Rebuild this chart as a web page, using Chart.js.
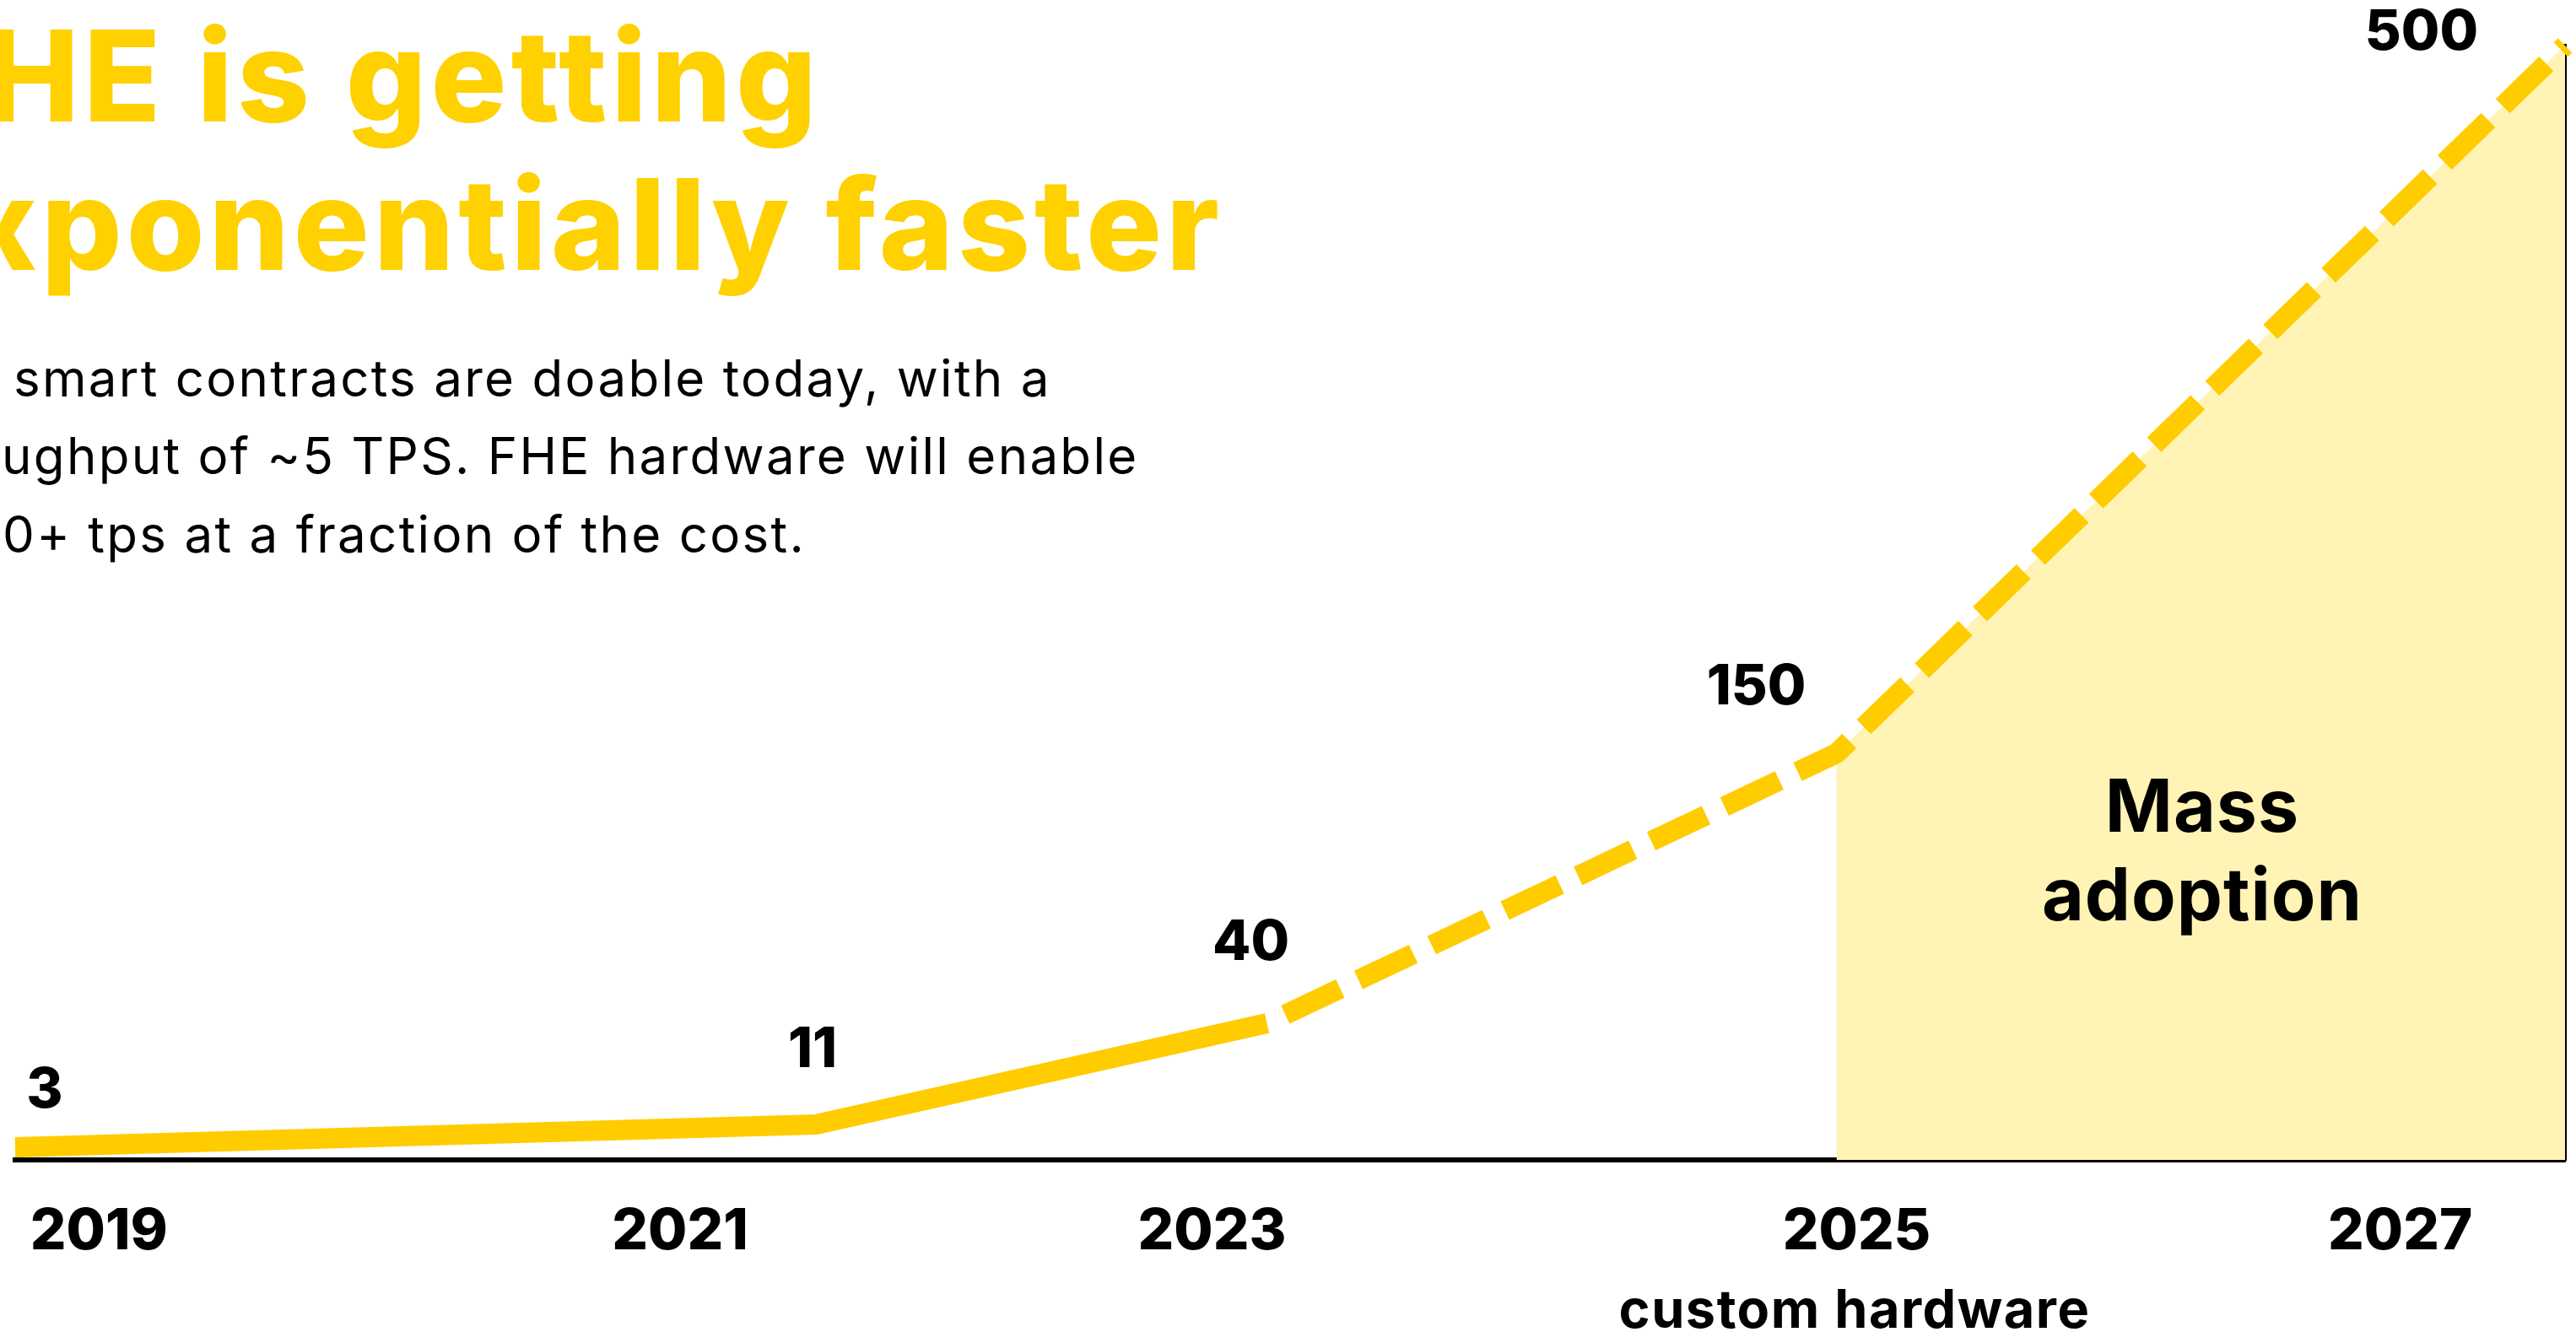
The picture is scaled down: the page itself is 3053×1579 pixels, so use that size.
<!DOCTYPE html>
<html>
<head>
<meta charset="utf-8">
<script src="https://cdn.jsdelivr.net/npm/chart.js@4.4.1/dist/chart.umd.min.js"></script>
<style>
  html, body { margin: 0; padding: 0; background: #fff; overflow: hidden; }
  #wrap { position: relative; width: 3053px; height: 1579px; overflow: hidden; font-family: Inter, sans-serif; }
  #wrap canvas { position: absolute; left: 0; top: 0; }
  .title { position: absolute; color: #FFD100; font-weight: 800; font-size: 150px; line-height: 1; white-space: nowrap; letter-spacing: 5px; }
  .sub { position: absolute; color: #000; font-weight: 400; font-size: 60px; line-height: 1; white-space: nowrap; letter-spacing: 2.3px; }
  .note { position: absolute; color: #000; font-weight: 700; white-space: nowrap; text-align: center; }
</style>
</head>
<body>
<div id="wrap">
  <canvas id="fheChart" width="3053" height="1579"></canvas>
  <div class="title" style="right:2080px; top:15px;">HE is getting</div>
  <div class="title" style="right:1603px; top:191px;">xponentially faster</div>
  <div class="sub" style="left:16px; top:418px;">smart contracts are doable today, with a</div>
  <div class="sub" style="left:2px; top:510px;">ughput of ~5 TPS. FHE hardware will enable</div>
  <div class="sub" style="left:3px; top:603px;">0+ tps at a fraction of the cost.</div>
  <div class="note" style="left:2400px; width:420px; top:903px; font-size:86px; line-height:105px; letter-spacing:1px;">Mass<br>adoption</div>
  <div class="note" style="left:1878px; width:640px; top:1514px; font-size:63px; line-height:74px; letter-spacing:1.5px;">custom hardware</div>
</div>
<script>
// x positions of the points, in years as placed on the timeline
const pointYears = [2018.73, 2021.50, 2023.06, 2025.03, 2027.55];
// throughput labels shown on the points (tps)
const tpsLabels = ['3', '11', '40', '150', '500'];
// height the curve reaches at each point (0-500 scale)
const curveLevels = [5.7, 15.9, 61.3, 182.4, 500];
// x tick positions and labels
const tickAt = [2019.02, 2021.03, 2022.87, 2025.10, 2026.98];
const tickLabels = ['2019', '2021', '2023', '2025', '2027'];

const YELLOW = '#FFCC00';
const PALE = '#FFF4B5';
const dashFrom = 2;      // projection starts at the 40 tps point
const massFrom = 3;      // shaded area starts at the custom hardware point

const points = pointYears.map((x, i) => ({ x, y: curveLevels[i] }));

// where each value label sits relative to its point
const labelOffsets = [[35, -67], [-4, -88], [-19, -95], [-95, -78], [-170, -15]];

const valueLabels = {
  id: 'valueLabels',
  afterDatasetsDraw(chart) {
    const meta = chart.getDatasetMeta(0);
    const c = chart.ctx;
    c.save();
    c.font = '800 66px Inter, sans-serif';
    c.fillStyle = '#000';
    c.textAlign = 'center';
    c.textBaseline = 'middle';
    meta.data.forEach((pt, i) => {
      const off = labelOffsets[i];
      c.fillText(tpsLabels[i], pt.x + off[0], pt.y + off[1]);
    });
    c.restore();
  }
};

const ctx = document.getElementById('fheChart');
new Chart(ctx, {
  type: 'line',
  data: {
    datasets: [
      {
        label: 'TPS',
        data: points,
        borderColor: YELLOW,
        borderWidth: 24,
        borderCapStyle: 'butt',
        borderJoinStyle: 'round',
        pointRadius: 0,
        tension: 0,
        fill: false,
        clip: false,
        order: 1,
        segment: {
          borderDash: c => c.p0DataIndex >= dashFrom ? [72, 24] : undefined,
          borderDashOffset: c => c.p0DataIndex >= dashFrom ? 72 : 0
        }
      },
      {
        label: 'Mass adoption',
        data: points.filter((p, i) => i >= massFrom),
        backgroundColor: PALE,
        borderWidth: 0,
        pointRadius: 0,
        fill: 'origin',
        order: 2
      }
    ]
  },
  options: {
    responsive: false,
    animation: false,
    layout: { padding: { left: 18, right: 13, top: 54, bottom: 0 } },
    plugins: { legend: { display: false }, tooltip: { enabled: false } },
    scales: {
      x: {
        type: 'linear',
        min: pointYears[0],
        max: pointYears[pointYears.length - 1],
        afterBuildTicks: s => { s.ticks = tickAt.map(v => ({ value: v })); },
        afterFit: s => { s.height = 204; s.paddingLeft = 0; s.paddingRight = 0; },
        grid: { display: false, drawTicks: false },
        border: { display: true, color: '#000', width: 6 },
        ticks: {
          autoSkip: false,
          maxRotation: 0,
          padding: 46,
          color: '#000',
          font: { family: 'Inter', size: 67, weight: '800' },
          callback: (v, i) => tickLabels[i]
        }
      },
      y: {
        type: 'linear',
        position: 'right',
        min: 0,
        max: 500,
        grid: { display: false, drawTicks: false },
        border: { display: true, color: '#000', width: 4 },
        ticks: { display: false }
      }
    }
  },
  plugins: [valueLabels]
});
</script>
</body>
</html>
